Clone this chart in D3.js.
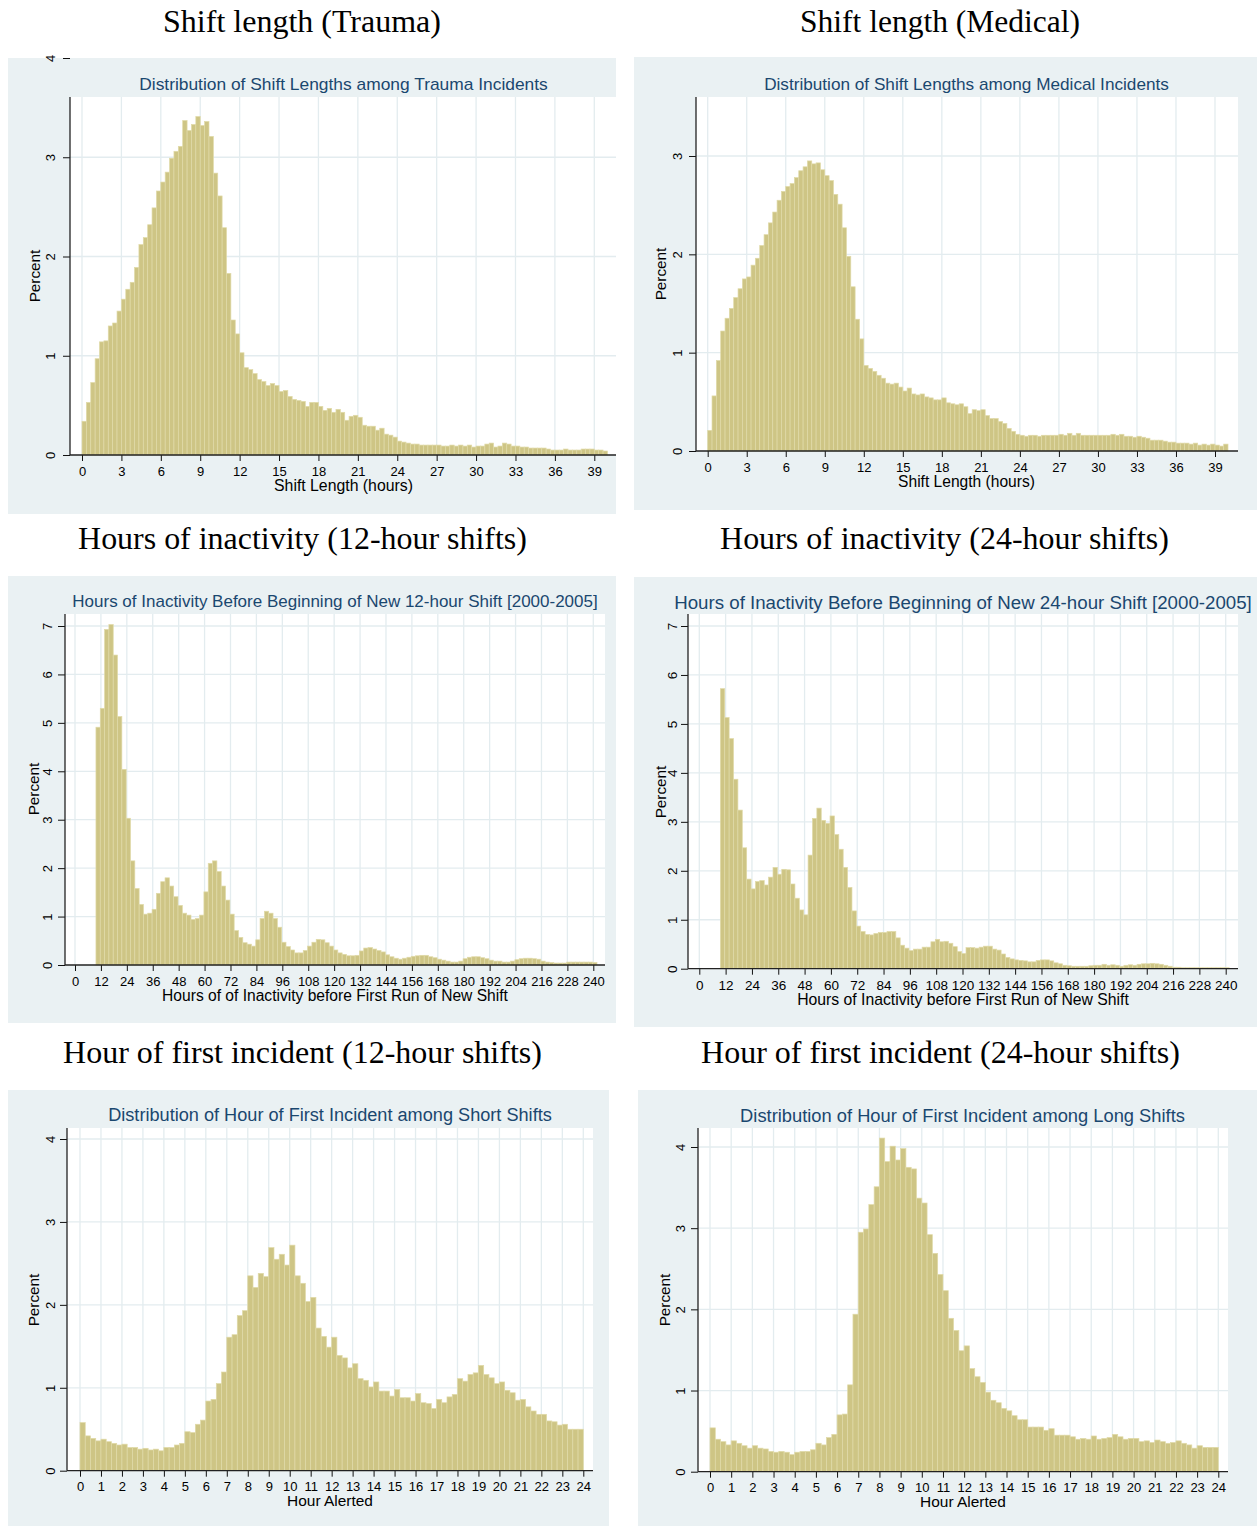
<!DOCTYPE html>
<html>
<head>
<meta charset="utf-8">
<script src="https://cdn.jsdelivr.net/npm/d3@7"></script>
<style>
  html, body { margin: 0; padding: 0; background: #fff; }
  svg { display: block; }
</style>
</head>
<body>
<svg id="chart" width="1257" height="1526"></svg>
<script>
// Percent of shifts per bin, read left to right.
// Shift length histograms: bins of 1/3 hour from 0 to 40 hours.
const traumaShift = [
  0.34,0.53,0.73,0.97,1.14,1.15,1.30,1.33,1.45,1.57,
  1.67,1.74,1.89,2.12,2.19,2.32,2.49,2.66,2.75,2.85,
  2.99,3.06,3.11,3.37,3.27,3.33,3.41,3.32,3.36,3.21,
  2.84,2.61,2.29,1.83,1.36,1.22,1.03,0.88,0.86,0.82,
  0.76,0.74,0.70,0.72,0.70,0.64,0.65,0.59,0.56,0.55,
  0.54,0.49,0.53,0.53,0.49,0.45,0.47,0.43,0.46,0.43,
  0.35,0.39,0.40,0.38,0.30,0.29,0.29,0.25,0.27,0.21,
  0.20,0.18,0.14,0.13,0.12,0.11,0.11,0.10,0.10,0.10,
  0.10,0.10,0.09,0.09,0.10,0.09,0.10,0.09,0.10,0.08,
  0.09,0.09,0.11,0.12,0.08,0.09,0.12,0.11,0.09,0.09,
  0.08,0.08,0.07,0.07,0.07,0.07,0.06,0.05,0.05,0.05,
  0.06,0.05,0.05,0.05,0.06,0.06,0.06,0.05,0.05,0.04
];
const medicalShift = [
  0.21,0.56,0.92,1.22,1.35,1.45,1.56,1.65,1.75,1.77,
  1.89,1.96,2.09,2.20,2.32,2.43,2.55,2.64,2.69,2.72,
  2.78,2.85,2.89,2.95,2.92,2.93,2.86,2.80,2.75,2.61,
  2.51,2.27,1.98,1.67,1.34,1.14,0.87,0.84,0.81,0.77,
  0.74,0.69,0.68,0.69,0.65,0.61,0.64,0.58,0.57,0.58,
  0.55,0.54,0.52,0.52,0.54,0.49,0.48,0.47,0.48,0.45,
  0.38,0.42,0.41,0.42,0.36,0.33,0.33,0.30,0.28,0.23,
  0.20,0.17,0.16,0.15,0.16,0.16,0.15,0.16,0.16,0.16,
  0.16,0.17,0.16,0.18,0.16,0.18,0.16,0.16,0.16,0.16,
  0.16,0.16,0.16,0.17,0.16,0.17,0.15,0.15,0.14,0.15,
  0.14,0.13,0.11,0.11,0.11,0.10,0.09,0.09,0.08,0.08,
  0.08,0.07,0.08,0.06,0.07,0.06,0.07,0.06,0.05,0.07
];
// Inactivity histograms: 2-hour bins.
const inactivity12 = [
  4.91,5.30,6.93,7.03,6.40,5.13,4.04,3.03,2.15,1.58,
  1.25,1.05,1.07,1.15,1.48,1.72,1.80,1.63,1.41,1.23,
  1.07,1.03,0.94,0.96,1.03,1.51,2.10,2.15,1.93,1.63,
  1.34,1.05,0.71,0.57,0.46,0.43,0.39,0.52,0.96,1.11,
  1.07,0.96,0.78,0.47,0.38,0.31,0.25,0.25,0.30,0.39,
  0.47,0.53,0.52,0.46,0.39,0.31,0.25,0.22,0.19,0.19,
  0.20,0.29,0.35,0.36,0.33,0.30,0.27,0.21,0.17,0.14,
  0.12,0.14,0.16,0.18,0.19,0.20,0.20,0.17,0.15,0.12,
  0.10,0.08,0.06,0.06,0.08,0.13,0.16,0.17,0.17,0.15,
  0.13,0.10,0.08,0.08,0.06,0.06,0.08,0.11,0.13,0.14,
  0.14,0.13,0.12,0.08,0.06,0.05,0.04,0.04,0.04,0.06,
  0.06,0.06,0.06,0.06,0.06,0.05
];
const inactivity24 = [
  5.72,5.13,4.70,3.87,3.24,2.47,1.83,1.63,1.78,1.80,
  1.71,1.87,2.07,1.93,2.03,2.02,1.73,1.44,1.20,1.10,
  2.32,3.07,3.28,3.03,2.97,3.12,2.74,2.44,2.07,1.66,
  1.18,0.87,0.76,0.70,0.69,0.72,0.74,0.74,0.76,0.76,
  0.63,0.48,0.42,0.37,0.40,0.40,0.44,0.44,0.55,0.60,
  0.55,0.56,0.52,0.45,0.35,0.31,0.43,0.43,0.42,0.44,
  0.46,0.46,0.40,0.38,0.30,0.23,0.20,0.18,0.17,0.16,
  0.14,0.14,0.17,0.18,0.18,0.16,0.12,0.10,0.07,0.06,
  0.05,0.05,0.05,0.05,0.06,0.07,0.07,0.09,0.07,0.08,
  0.07,0.05,0.07,0.08,0.07,0.09,0.10,0.10,0.11,0.10,
  0.09,0.07,0.05,0.03,0.03,0.02,0.02,0.02,0.02,0.02,
  0.02,0.02,0.02,0.02,0.02,0.02
];
// Hour of first incident: 15-minute bins over the day.
const firstHourShort = [
  0.58,0.42,0.39,0.36,0.38,0.35,0.33,0.31,0.32,0.28,
  0.28,0.26,0.27,0.25,0.26,0.24,0.28,0.28,0.31,0.33,
  0.47,0.46,0.56,0.61,0.84,0.86,1.05,1.19,1.61,1.64,
  1.87,1.93,2.35,2.21,2.38,2.34,2.69,2.55,2.61,2.48,
  2.72,2.35,2.26,2.04,2.09,1.72,1.62,1.49,1.61,1.39,
  1.36,1.24,1.29,1.11,1.09,1.01,1.07,0.96,0.96,0.90,
  0.98,0.88,0.88,0.84,0.93,0.82,0.81,0.75,0.86,0.82,
  0.89,0.92,1.11,1.08,1.16,1.18,1.27,1.16,1.12,1.05,
  1.07,0.97,0.94,0.85,0.86,0.77,0.72,0.68,0.68,0.60,
  0.59,0.55,0.56,0.50,0.50,0.50
];
const firstHourLong = [
  0.54,0.40,0.37,0.33,0.38,0.35,0.32,0.29,0.32,0.29,
  0.28,0.25,0.24,0.25,0.24,0.21,0.24,0.25,0.25,0.27,
  0.35,0.33,0.42,0.46,0.70,0.71,1.07,1.94,2.95,2.99,
  3.29,3.51,4.11,3.82,4.01,3.84,3.98,3.75,3.73,3.37,
  3.31,2.92,2.69,2.43,2.23,1.89,1.74,1.49,1.55,1.27,
  1.17,1.10,0.98,0.88,0.85,0.78,0.75,0.69,0.64,0.64,
  0.55,0.55,0.55,0.51,0.53,0.45,0.45,0.45,0.43,0.40,
  0.41,0.40,0.44,0.40,0.41,0.42,0.46,0.43,0.40,0.41,
  0.41,0.37,0.38,0.36,0.39,0.37,0.35,0.36,0.38,0.35,
  0.33,0.29,0.32,0.30,0.30,0.30
];

// Axis tick values
const shiftTicks = d3.range(0, 40, 3);
const inactivityTicks = d3.range(0, 241, 12);
const hourTicks = d3.range(0, 25, 1);

// Text
const headings = [
  "Shift length (Trauma)", "Shift length (Medical)",
  "Hours of inactivity (12-hour shifts)", "Hours of inactivity (24-hour shifts)",
  "Hour of first incident (12-hour shifts)", "Hour of first incident (24-hour shifts)"
];
const panelTitles = [
  "Distribution of Shift Lengths among Trauma Incidents",
  "Distribution of Shift Lengths among Medical Incidents",
  "Hours of Inactivity Before Beginning of New 12-hour Shift [2000-2005]",
  "Hours of Inactivity Before Beginning of New 24-hour Shift [2000-2005]",
  "Distribution of Hour of First Incident among Short Shifts",
  "Distribution of Hour of First Incident among Long Shifts"
];
const xTitles = [
  "Shift Length (hours)", "Shift Length (hours)",
  "Hours of of Inactivity before First Run of New Shift",
  "Hours of Inactivity before First Run of New Shift",
  "Hour Alerted", "Hour Alerted"
];
const yTitle = "Percent";

// Layout of the six graphs; text entries are [centre x, baseline y, span width]
const panels = [
  { data: traumaShift, start: 0, bin: 1/3,
    head: [302, 32, 278], box: [8, 58, 616, 514], plot: [70, 97, 616, 455],
    xd: [0, 39], xr: [82, 594.3], xTicks: shiftTicks,
    yd: [0, 4], yr: [455, 58], yTicks: [0,1,2,3,4],
    title: [343.5, 90, 409], xLab: 476, xTitle: [343.5, 491, 139], yLabX: 50, yTitle: [34, 276], fs: 13 },
  { data: medicalShift, start: 0, bin: 1/3,
    head: [940, 32, 280], box: [634, 57, 1257, 510], plot: [696, 97, 1238, 451],
    xd: [0, 39], xr: [707.7, 1215], xTicks: shiftTicks,
    yd: [0, 3], yr: [451, 156], yTicks: [0,1,2,3],
    title: [966.5, 90, 405], xLab: 472, xTitle: [966.5, 487, 137], yLabX: 677, yTitle: [660, 274], fs: 13 },
  { data: inactivity12, start: 9.7, bin: 2,
    head: [302.5, 549, 449], box: [8, 576, 616, 1023], plot: [65, 614, 605, 965],
    xd: [0, 240], xr: [75, 593.3], xTicks: inactivityTicks,
    yd: [0, 7], yr: [965, 626], yTicks: d3.range(0, 8),
    title: [335, 607, 526], xLab: 986, xTitle: [335, 1001, 346], yLabX: 47, yTitle: [33, 789], fs: 13 },
  { data: inactivity24, start: 9.6, bin: 2,
    head: [944.5, 549, 449], box: [634, 577, 1257, 1027], plot: [688, 614, 1238, 968.7],
    xd: [0, 240], xr: [699.3, 1225.7], xTicks: inactivityTicks,
    yd: [0, 7], yr: [968.7, 626], yTicks: d3.range(0, 8),
    title: [963, 609, 578], xLab: 990, xTitle: [963, 1005, 332], yLabX: 672, yTitle: [660, 792], fs: 13.5 },
  { data: firstHourShort, start: 0, bin: 0.25,
    head: [302.5, 1063, 479], box: [8, 1090, 609, 1526], plot: [67, 1128, 593, 1470.7],
    xd: [0, 24], xr: [80, 583.3], xTicks: hourTicks,
    yd: [0, 4], yr: [1470.7, 1139], yTicks: [0,1,2,3,4],
    title: [330, 1121, 444], xLab: 1491, xTitle: [330, 1506, 86], yLabX: 50, yTitle: [33, 1300], fs: 13 },
  { data: firstHourLong, start: 0, bin: 0.25,
    head: [940.5, 1063, 479], box: [638, 1090, 1257, 1526], plot: [698, 1128, 1228, 1471.7],
    xd: [0, 24], xr: [710, 1218.3], xTicks: hourTicks,
    yd: [0, 4], yr: [1471.7, 1147], yTicks: [0,1,2,3,4],
    title: [962.5, 1122, 445], xLab: 1492, xTitle: [963, 1507, 86], yLabX: 680, yTitle: [664, 1300], fs: 13 }
];

const SANS = "'Liberation Sans', Arial, Helvetica, sans-serif";
const SERIF = "'Liberation Serif', 'DejaVu Serif', serif";
const BOX = "#eaf1f3";
const GRID = "#e3ecef";
const BAR_FILL = "#cec585";
const BAR_EDGE = "#e0daa8";
const NAVY = "#1a476f";

const svg = d3.select("#chart");
svg.append("rect").attr("width", 1257).attr("height", 1526).attr("fill", "#fff");

// centred text whose font size is set so that it spans the given width
function fitText(parent, spec, str, family, base, fill) {
  const t = parent.append("text").attr("x", spec[0]).attr("y", spec[1])
    .attr("text-anchor", "middle").attr("font-family", family)
    .attr("font-size", base).attr("fill", fill).text(str);
  const w = t.node().getComputedTextLength();
  if (w > 0) t.attr("font-size", base * spec[2] / w);
  return t;
}

panels.forEach((p, k) => {
  const g = svg.append("g");
  const [bx0, by0, bx1, by1] = p.box;
  const [px0, py0, px1, py1] = p.plot;

  // graph region and white plot region
  g.append("rect").attr("x", bx0).attr("y", by0)
    .attr("width", bx1 - bx0).attr("height", by1 - by0).attr("fill", BOX);
  g.append("rect").attr("x", px0).attr("y", py0)
    .attr("width", px1 - px0).attr("height", py1 - py0).attr("fill", "#fff");

  const x = d3.scaleLinear().domain(p.xd).range(p.xr);
  const y = d3.scaleLinear().domain(p.yd).range(p.yr);

  // grid lines inside the plot region
  const grid = g.append("g").attr("stroke", GRID).attr("stroke-width", 1.3);
  grid.selectAll("line.v").data(p.xTicks).join("line")
    .attr("x1", d => x(d)).attr("x2", d => x(d))
    .attr("y1", py0).attr("y2", y(0));
  grid.selectAll("line.h").data(p.yTicks.filter(t => y(t) >= py0 && t > 0)).join("line")
    .attr("x1", px0).attr("x2", px1)
    .attr("y1", d => y(d)).attr("y2", d => y(d));

  // histogram bars
  g.append("g").selectAll("rect").data(p.data).join("rect")
    .attr("x", (d, i) => x(p.start + i * p.bin))
    .attr("width", (d, i) => x(p.start + (i + 1) * p.bin) - x(p.start + i * p.bin))
    .attr("y", d => y(d))
    .attr("height", d => y(0) - y(d))
    .attr("fill", BAR_FILL)
    .attr("stroke", BAR_EDGE)
    .attr("stroke-width", 0.7);

  // x axis
  const xAxis = g.append("g").attr("transform", `translate(0,${y(0)})`)
    .call(d3.axisBottom(x).tickValues(p.xTicks).tickSize(6).tickFormat(d3.format("d")));
  xAxis.select(".domain").remove();
  xAxis.selectAll(".tick line").attr("stroke", "#111").attr("stroke-width", 1);
  xAxis.selectAll(".tick text")
    .attr("y", p.xLab - y(0)).attr("dy", 0)
    .attr("font-family", SANS).attr("font-size", p.fs).attr("fill", "#000");
  g.append("line").attr("x1", px0).attr("x2", px1).attr("y1", y(0)).attr("y2", y(0))
    .attr("stroke", "#222").attr("stroke-width", 1.3);

  // y axis with rotated labels
  const yAxis = g.append("g").attr("transform", `translate(${px0},0)`)
    .call(d3.axisLeft(y).tickValues(p.yTicks).tickSize(7).tickFormat(d3.format("d")));
  yAxis.select(".domain").remove();
  yAxis.selectAll(".tick line").attr("stroke", "#111").attr("stroke-width", 1);
  const labOff = px0 - p.yLabX - p.fs * 0.36;
  yAxis.selectAll(".tick text")
    .attr("transform", "rotate(-90)")
    .attr("x", 0).attr("y", -labOff).attr("dy", 0)
    .attr("text-anchor", "middle")
    .attr("font-family", SANS).attr("font-size", p.fs).attr("fill", "#000");
  g.append("line").attr("x1", px0).attr("x2", px0).attr("y1", py0).attr("y2", y(0))
    .attr("stroke", "#222").attr("stroke-width", 1.3);

  // titles
  fitText(g, p.title, panelTitles[k], SANS, 16, NAVY);
  fitText(g, p.xTitle, xTitles[k], SANS, 15, "#000");
  g.append("text")
    .attr("transform", `translate(${p.yTitle[0] + 5.5},${p.yTitle[1]}) rotate(-90)`)
    .attr("text-anchor", "middle").attr("font-family", SANS)
    .attr("font-size", 15.3).attr("fill", "#000").text(yTitle);

  // heading above each graph
  fitText(svg, p.head, headings[k], SERIF, 30, "#000");
});
</script>
</body>
</html>
